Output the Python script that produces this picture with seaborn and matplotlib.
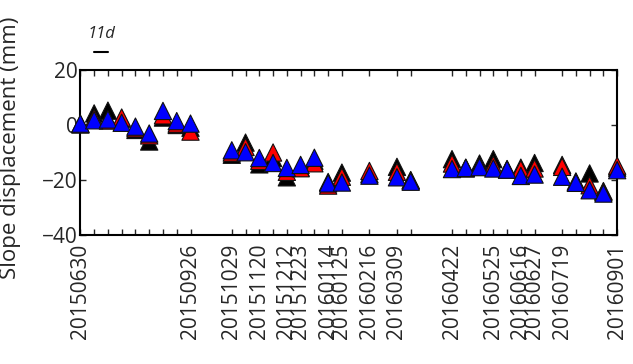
import pandas as pd
import matplotlib.pyplot as plt
import matplotlib.transforms as mtransforms
import seaborn as sns

# acquisition dates (11-day repeat)
dates = ['20150630', '20150711', '20150722', '20150802', '20150813', '20150824',
         '20150904', '20150915', '20150926',
         '20151029', '20151109', '20151120', '20151201', '20151212', '20151223',
         '20160103', '20160114', '20160125',
         '20160216', '20160309', '20160320',
         '20160422', '20160503', '20160514', '20160525', '20160605', '20160616',
         '20160627',
         '20160719', '20160730', '20160810', '20160821', '20160901']

# slope displacement (mm) of the three series
black = [0.2, 4.2, 5.2, 2.3, -1.8, -6.0, 2.7, 0.0, -1.0,
         -10.8, -6.4, -14.3, -12.0, -19.0, -15.5, -13.0, -20.7, -17.3,
         -17.8, -15.2, -20.0,
         -12.4, -15.5, -14.0, -12.4, -16.0, -15.5, -13.8,
         -14.5, -20.5, -17.6, -24.0, -15.5]
red = [0.3, 2.5, 1.6, 2.7, -1.2, -3.8, 3.5, 0.5, -2.4,
       -10.0, -8.0, -13.0, -10.0, -17.0, -15.7, -13.9, -22.0, -18.8,
       -16.7, -17.0, -20.2,
       -14.0, -15.8, -15.0, -14.5, -16.2, -16.1, -15.8,
       -15.2, -20.8, -21.9, -24.3, -14.8]
blue = [0.5, 1.7, 2.0, 0.8, -0.6, -3.1, 5.1, 1.4, 0.5,
        -9.2, -9.9, -12.0, -13.8, -15.6, -14.5, -11.9, -21.2, -20.9,
        -18.4, -19.0, -20.6,
        -16.0, -15.6, -15.3, -15.8, -16.2, -18.5, -18.0,
        -18.8, -21.0, -23.7, -24.9, -16.4]

# dates that carry a tick label
labelled = ['20150630', '20150926', '20151029', '20151120', '20151212', '20151223',
            '20160114', '20160125', '20160216', '20160309', '20160422', '20160525',
            '20160616', '20160627', '20160719', '20160901']

yticks = [-40, -20, 0, 20]

# long table, drawn in order black -> red -> blue (blue on top)
frames = []
for name, vals in [('black', black), ('red', red), ('blue', blue)]:
    frames.append(pd.DataFrame({'date': pd.to_datetime(dates), 'disp': vals, 'series': name}))
df = pd.concat(frames, ignore_index=True)

sns.set_style('ticks')
plt.rcParams['font.family'] = ['Open Sans', 'DejaVu Sans']

fig = plt.figure(figsize=(6.33, 3.64), dpi=100)
ax = fig.add_axes([0.127, 0.354, 0.848, 0.454])

sns.scatterplot(data=df, x='date', y='disp', hue='series',
                palette={'black': '#000000', 'red': '#ff0000', 'blue': '#0000ff'},
                marker='^', s=155, edgecolor='#111111', linewidth=0.8,
                legend=False, clip_on=False, zorder=3, ax=ax)

d = pd.to_datetime(dates)
ax.set_xlim(d[0], d[-1])
ax.set_ylim(-40, 20)

ax.set_xticks(d)
ax.set_xticklabels([s if s in labelled else '' for s in dates], rotation=90)
ax.set_yticks(yticks)
ax.set_yticklabels([f'{v}'.replace('-', '\u2212') for v in yticks])

ax.tick_params(axis='both', direction='in', top=True, right=True,
               length=4, width=1, labelsize=15, pad=2)
ax.tick_params(axis='x', pad=6)
for sp in ax.spines.values():
    sp.set_linewidth(1.5)
    sp.set_color('black')

ax.set_xlabel('')
ax.set_ylabel('Slope displacement (mm)', fontsize=16, labelpad=2)
ax.yaxis.set_label_coords(-0.11, 0.53)

# 11-day scale bar above the axes
trans = mtransforms.blended_transform_factory(ax.transData, ax.transAxes)
ax.plot([d[1], d[2]], [1.11, 1.11], color='black', lw=1.5, transform=trans, clip_on=False)
ax.text(d[1] + (d[2] - d[1]) / 2, 1.17, '11d', transform=trans, ha='center', va='bottom',
        fontsize=12, style='italic')

plt.savefig('out.png', dpi=100)
